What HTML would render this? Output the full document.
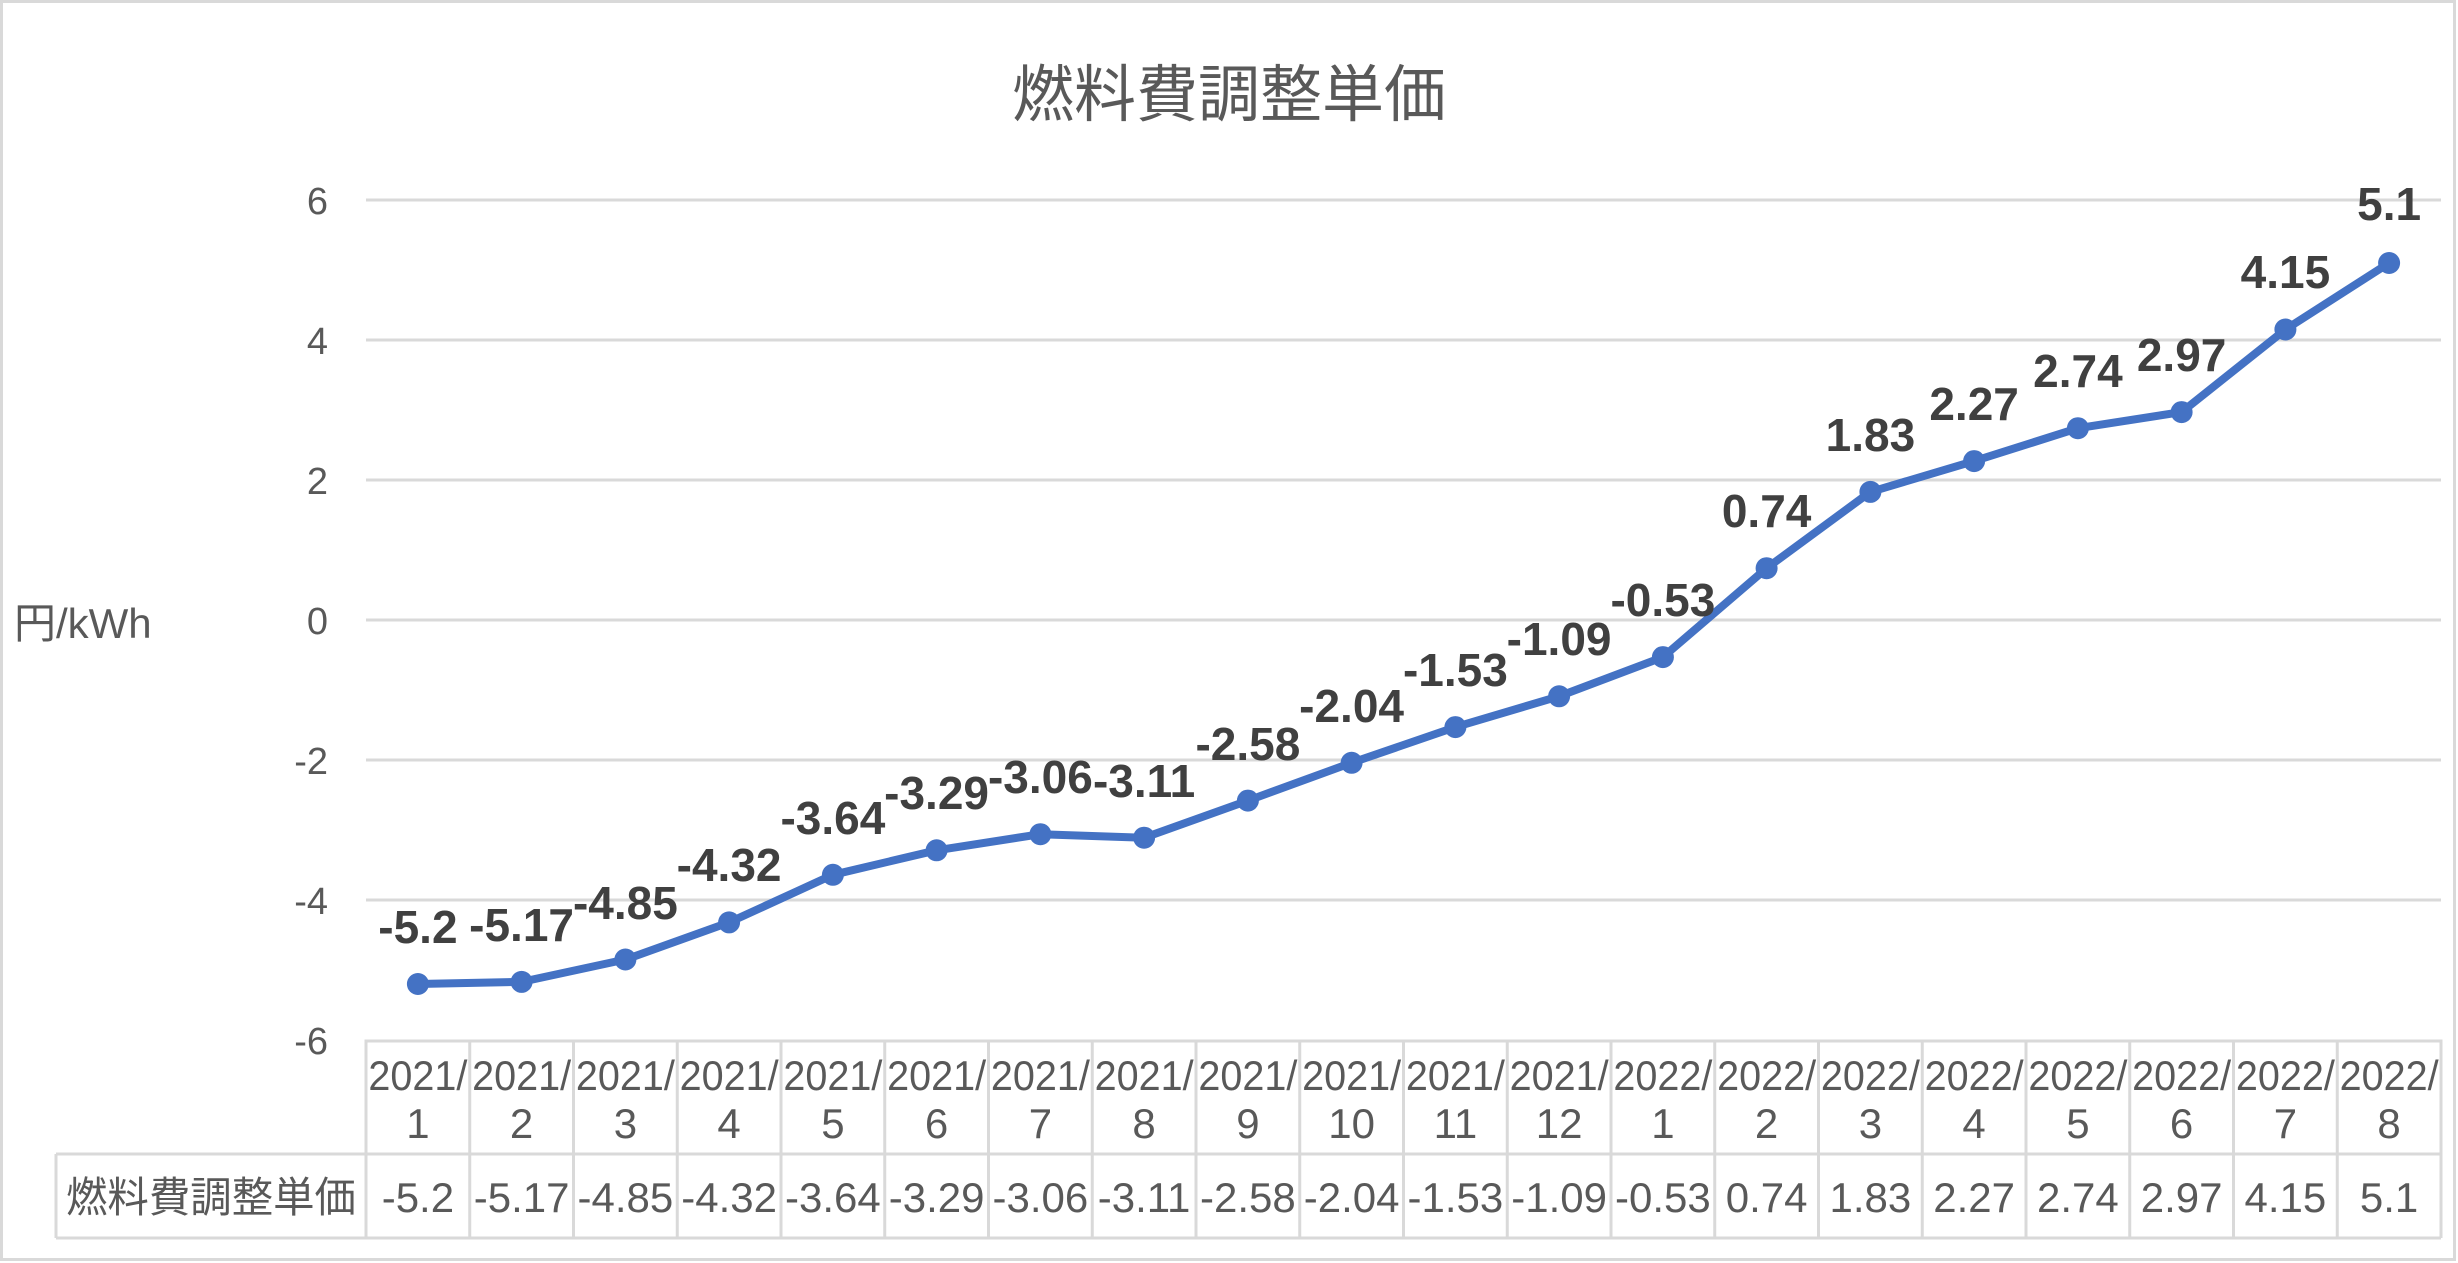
<!DOCTYPE html>
<html><head><meta charset="utf-8"><style>
html,body{margin:0;padding:0;background:#fff;}
svg{display:block;}
text{font-family:"Liberation Sans","Noto Sans CJK JP",sans-serif;}
</style></head><body>
<svg width="2458" height="1263" viewBox="0 0 2458 1263" xmlns="http://www.w3.org/2000/svg">
<rect x="1.5" y="1.5" width="2453" height="1258" fill="#fff" stroke="#d9d9d9" stroke-width="3"/>
<text x="1229" y="116" font-size="62" fill="#595959" text-anchor="middle">燃料費調整単価</text>
<text x="14" y="638" font-size="42" fill="#595959">円/kWh</text>
<g stroke="#d9d9d9" stroke-width="3">
<line x1="366" y1="200" x2="2441" y2="200"/>
<line x1="366" y1="340" x2="2441" y2="340"/>
<line x1="366" y1="480" x2="2441" y2="480"/>
<line x1="366" y1="620" x2="2441" y2="620"/>
<line x1="366" y1="760" x2="2441" y2="760"/>
<line x1="366" y1="900" x2="2441" y2="900"/>
</g>
<g font-size="38" fill="#595959" text-anchor="end">
<text x="328" y="214">6</text>
<text x="328" y="354">4</text>
<text x="328" y="494">2</text>
<text x="328" y="634">0</text>
<text x="328" y="774">-2</text>
<text x="328" y="914">-4</text>
<text x="328" y="1054">-6</text>
</g>
<g stroke="#d9d9d9" stroke-width="3" fill="none">
<polyline points="366,1238 366,1041 2441,1041 2441,1238"/>
<line x1="56" y1="1154" x2="2441" y2="1154"/>
<line x1="56" y1="1238" x2="2441" y2="1238"/>
<line x1="56" y1="1154" x2="56" y2="1238"/>
<line x1="469.75" y1="1041" x2="469.75" y2="1238"/>
<line x1="573.5" y1="1041" x2="573.5" y2="1238"/>
<line x1="677.25" y1="1041" x2="677.25" y2="1238"/>
<line x1="781" y1="1041" x2="781" y2="1238"/>
<line x1="884.75" y1="1041" x2="884.75" y2="1238"/>
<line x1="988.5" y1="1041" x2="988.5" y2="1238"/>
<line x1="1092.25" y1="1041" x2="1092.25" y2="1238"/>
<line x1="1196" y1="1041" x2="1196" y2="1238"/>
<line x1="1299.75" y1="1041" x2="1299.75" y2="1238"/>
<line x1="1403.5" y1="1041" x2="1403.5" y2="1238"/>
<line x1="1507.25" y1="1041" x2="1507.25" y2="1238"/>
<line x1="1611" y1="1041" x2="1611" y2="1238"/>
<line x1="1714.75" y1="1041" x2="1714.75" y2="1238"/>
<line x1="1818.5" y1="1041" x2="1818.5" y2="1238"/>
<line x1="1922.25" y1="1041" x2="1922.25" y2="1238"/>
<line x1="2026" y1="1041" x2="2026" y2="1238"/>
<line x1="2129.75" y1="1041" x2="2129.75" y2="1238"/>
<line x1="2233.5" y1="1041" x2="2233.5" y2="1238"/>
<line x1="2337.25" y1="1041" x2="2337.25" y2="1238"/>
</g>
<text x="211" y="1212" font-size="42" fill="#595959" text-anchor="middle" textLength="290" lengthAdjust="spacingAndGlyphs">燃料費調整単価</text>
<g font-size="42" fill="#595959" text-anchor="middle">
<text x="417.9" y="1090" textLength="99" lengthAdjust="spacingAndGlyphs">2021/</text>
<text x="521.6" y="1090" textLength="99" lengthAdjust="spacingAndGlyphs">2021/</text>
<text x="625.4" y="1090" textLength="99" lengthAdjust="spacingAndGlyphs">2021/</text>
<text x="729.1" y="1090" textLength="99" lengthAdjust="spacingAndGlyphs">2021/</text>
<text x="832.9" y="1090" textLength="99" lengthAdjust="spacingAndGlyphs">2021/</text>
<text x="936.6" y="1090" textLength="99" lengthAdjust="spacingAndGlyphs">2021/</text>
<text x="1040.4" y="1090" textLength="99" lengthAdjust="spacingAndGlyphs">2021/</text>
<text x="1144.1" y="1090" textLength="99" lengthAdjust="spacingAndGlyphs">2021/</text>
<text x="1247.9" y="1090" textLength="99" lengthAdjust="spacingAndGlyphs">2021/</text>
<text x="1351.6" y="1090" textLength="99" lengthAdjust="spacingAndGlyphs">2021/</text>
<text x="1455.4" y="1090" textLength="99" lengthAdjust="spacingAndGlyphs">2021/</text>
<text x="1559.1" y="1090" textLength="99" lengthAdjust="spacingAndGlyphs">2021/</text>
<text x="1662.9" y="1090" textLength="99" lengthAdjust="spacingAndGlyphs">2022/</text>
<text x="1766.6" y="1090" textLength="99" lengthAdjust="spacingAndGlyphs">2022/</text>
<text x="1870.4" y="1090" textLength="99" lengthAdjust="spacingAndGlyphs">2022/</text>
<text x="1974.1" y="1090" textLength="99" lengthAdjust="spacingAndGlyphs">2022/</text>
<text x="2077.9" y="1090" textLength="99" lengthAdjust="spacingAndGlyphs">2022/</text>
<text x="2181.6" y="1090" textLength="99" lengthAdjust="spacingAndGlyphs">2022/</text>
<text x="2285.4" y="1090" textLength="99" lengthAdjust="spacingAndGlyphs">2022/</text>
<text x="2389.1" y="1090" textLength="99" lengthAdjust="spacingAndGlyphs">2022/</text>
<text x="417.9" y="1138">1</text><text x="521.6" y="1138">2</text><text x="625.4" y="1138">3</text>
<text x="729.1" y="1138">4</text><text x="832.9" y="1138">5</text><text x="936.6" y="1138">6</text>
<text x="1040.4" y="1138">7</text><text x="1144.1" y="1138">8</text><text x="1247.9" y="1138">9</text>
<text x="1351.6" y="1138">10</text><text x="1455.4" y="1138">11</text><text x="1559.1" y="1138">12</text>
<text x="1662.9" y="1138">1</text><text x="1766.6" y="1138">2</text><text x="1870.4" y="1138">3</text>
<text x="1974.1" y="1138">4</text><text x="2077.9" y="1138">5</text><text x="2181.6" y="1138">6</text>
<text x="2285.4" y="1138">7</text><text x="2389.1" y="1138">8</text>
<text x="417.9" y="1212">-5.2</text><text x="521.6" y="1212">-5.17</text><text x="625.4" y="1212">-4.85</text>
<text x="729.1" y="1212">-4.32</text><text x="832.9" y="1212">-3.64</text><text x="936.6" y="1212">-3.29</text>
<text x="1040.4" y="1212">-3.06</text><text x="1144.1" y="1212">-3.11</text><text x="1247.9" y="1212">-2.58</text>
<text x="1351.6" y="1212">-2.04</text><text x="1455.4" y="1212">-1.53</text><text x="1559.1" y="1212">-1.09</text>
<text x="1662.9" y="1212">-0.53</text><text x="1766.6" y="1212">0.74</text><text x="1870.4" y="1212">1.83</text>
<text x="1974.1" y="1212">2.27</text><text x="2077.9" y="1212">2.74</text><text x="2181.6" y="1212">2.97</text>
<text x="2285.4" y="1212">4.15</text><text x="2389.1" y="1212">5.1</text>
</g>
<polyline fill="none" stroke="#4472c4" stroke-width="8" stroke-linejoin="round" stroke-linecap="round" points="417.9,984 521.6,981.9 625.4,959.5 729.1,922.4 832.9,874.8 936.6,850.3 1040.4,834.2 1144.1,837.7 1247.9,800.6 1351.6,762.8 1455.4,727.1 1559.1,696.3 1662.9,657.1 1766.6,568.2 1870.4,491.9 1974.1,461.1 2077.9,428.2 2181.6,412.1 2285.4,329.5 2389.1,263"/>
<g fill="#4472c4">
<circle cx="417.9" cy="984" r="11"/><circle cx="521.6" cy="981.9" r="11"/><circle cx="625.4" cy="959.5" r="11"/>
<circle cx="729.1" cy="922.4" r="11"/><circle cx="832.9" cy="874.8" r="11"/><circle cx="936.6" cy="850.3" r="11"/>
<circle cx="1040.4" cy="834.2" r="11"/><circle cx="1144.1" cy="837.7" r="11"/><circle cx="1247.9" cy="800.6" r="11"/>
<circle cx="1351.6" cy="762.8" r="11"/><circle cx="1455.4" cy="727.1" r="11"/><circle cx="1559.1" cy="696.3" r="11"/>
<circle cx="1662.9" cy="657.1" r="11"/><circle cx="1766.6" cy="568.2" r="11"/><circle cx="1870.4" cy="491.9" r="11"/>
<circle cx="1974.1" cy="461.1" r="11"/><circle cx="2077.9" cy="428.2" r="11"/><circle cx="2181.6" cy="412.1" r="11"/>
<circle cx="2285.4" cy="329.5" r="11"/><circle cx="2389.1" cy="263" r="11"/>
</g>
<g font-size="46" font-weight="bold" fill="#404040" text-anchor="middle">
<text x="417.9" y="943">-5.2</text><text x="521.6" y="941">-5.17</text><text x="625.4" y="919">-4.85</text>
<text x="729.1" y="881">-4.32</text><text x="832.9" y="834">-3.64</text><text x="936.6" y="809">-3.29</text>
<text x="1040.4" y="793">-3.06</text><text x="1144.1" y="797">-3.11</text><text x="1247.9" y="760">-2.58</text>
<text x="1351.6" y="722">-2.04</text><text x="1455.4" y="686">-1.53</text><text x="1559.1" y="655">-1.09</text>
<text x="1662.9" y="616">-0.53</text><text x="1766.6" y="527">0.74</text><text x="1870.4" y="451">1.83</text>
<text x="1974.1" y="420">2.27</text><text x="2077.9" y="387">2.74</text><text x="2181.6" y="371">2.97</text>
<text x="2285.4" y="288">4.15</text><text x="2389.1" y="220">5.1</text>
</g>
</svg>
</body></html>
